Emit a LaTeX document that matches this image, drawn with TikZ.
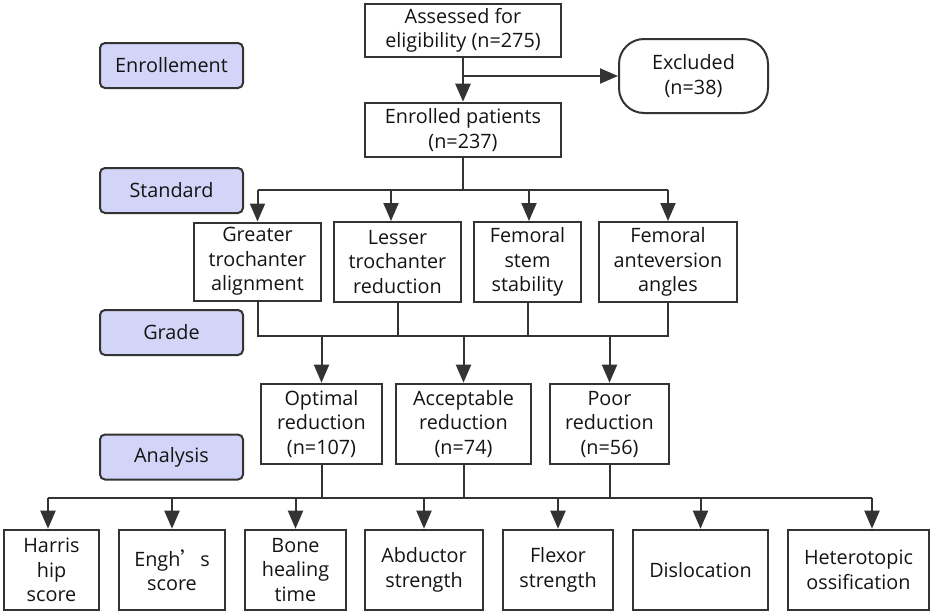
\documentclass[tikz,border=0pt]{standalone}
\usepackage{fontspec}
\setmainfont{Open Sans}
\newfontfamily\cjk{Noto Sans CJK SC}
\usetikzlibrary{arrows.meta}
\definecolor{lab}{RGB}{210,213,247}
\definecolor{ln}{RGB}{51,51,51}
\definecolor{tx}{RGB}{20,20,20}
\begin{document}
\begin{tikzpicture}[x=1pt,y=-1pt,
  box/.style={draw=ln, line width=2pt, fill=white, inner sep=0pt, align=center, text=tx,
    font=\fontsize{19.8}{24.5}\selectfont},
  thick box/.style={box, line width=2.6pt},
  stage/.style={box, fill=lab, rounded corners=5pt, minimum width=143pt, minimum height=45pt},
  conn/.style={draw=ln, line width=2pt},
  arr/.style={conn, -{Triangle[length=18pt,width=15pt]}}]
\useasboundingbox (0,0) rectangle (935,614);
% stage labels
\node[stage] (s1) at (171.5,65.5) {Enrollement};
\node[stage] (s2) at (171.5,190.5) {Standard};
\node[stage] (s3) at (171.5,332.5) {Grade};
\node[stage] (s4) at (171.5,457) {Analysis};
% top
\node[thick box, minimum width=196pt, minimum height=53pt] (ass) at (463,30.5) {Assessed for\\eligibility (n=275)};
\node[thick box, minimum width=196pt, minimum height=54pt] (enr) at (463,130) {Enrolled patients\\(n=237)};
\node[box, minimum width=149pt, minimum height=74pt, rounded corners=25pt] (exc) at (693.5,76) {Excluded\\(n=38)};
% standard
\node[box, minimum width=127pt, minimum height=78pt] (gta) at (257.5,261.5) {Greater\\trochanter\\alignment};
\node[box, minimum width=127pt, minimum height=80pt] (ltr) at (397.5,262) {Lesser\\trochanter\\reduction};
\node[box, minimum width=107pt, minimum height=80pt] (fss) at (527.5,262) {Femoral\\stem\\stability};
\node[box, minimum width=138pt, minimum height=80pt] (fan) at (668,262) {Femoral\\anteversion\\angles};
% grade
\node[thick box, minimum width=121pt, minimum height=80pt] (opt) at (321.5,424) {Optimal\\reduction\\(n=107)};
\node[thick box, minimum width=135pt, minimum height=80pt] (acc) at (463.5,424) {Acceptable\\reduction\\(n=74)};
\node[thick box, minimum width=119pt, minimum height=80pt] (poor) at (609.5,424) {Poor\\reduction\\(n=56)};
% analysis
\node[thick box, minimum width=95pt, minimum height=80pt] (har) at (51.5,570) {Harris\\hip\\score};
\node[thick box, minimum width=106pt, minimum height=80pt] (eng) at (172,570) {Engh{\cjk ’}s\\score};
\node[thick box, minimum width=101pt, minimum height=80pt] (bon) at (295.5,570) {Bone\\healing\\time};
\node[thick box, minimum width=118pt, minimum height=80pt] (abd) at (424,570) {Abductor\\strength};
\node[thick box, minimum width=110pt, minimum height=80pt] (fle) at (558,570) {Flexor\\strength};
\node[thick box, minimum width=135pt, minimum height=80pt] (dis) at (700.5,570) {Dislocation};
\node[thick box, minimum width=141pt, minimum height=80pt] (het) at (858.5,570) {Heterotopic\\ossification};
% connectors: enrollment
\draw[arr, line width=2.6pt] (ass.south) -- (enr.north);
\coordinate (b1) at (463,76);
\draw[arr] (b1) -- (exc.west);
% to standard
\coordinate (b2) at (463,190);
\draw[conn, line width=2.6pt] (enr.south) -- (b2);
\draw[conn] (gta.north |- b2) -- (fan.north |- b2);
\draw[arr] (gta.north |- b2) -- (gta.north);
\draw[arr] ([xshift=-6.5pt]ltr.north |- b2) -- ([xshift=-6.5pt]ltr.north);
\draw[arr] ([xshift=1.5pt]fss.north |- b2) -- ([xshift=1.5pt]fss.north);
\draw[arr] (fan.north |- b2) -- (fan.north);
% to grade
\coordinate (b3) at (0,336);
\draw[conn] (gta.south) -- (gta.south |- b3) -- (fan.south |- b3) -- (fan.south);
\draw[conn] (ltr.south) -- (ltr.south |- b3);
\draw[conn] (fss.south) -- (fss.south |- b3);
\draw[arr] (opt.north |- b3) -- (opt.north);
\draw[arr] (acc.north |- b3) -- (acc.north);
\draw[arr] (poor.north |- b3) -- (poor.north);
% to analysis
\coordinate (b4) at (0,498);
\draw[conn] (opt.south) -- (opt.south |- b4);
\draw[conn] (acc.south) -- (acc.south |- b4);
\draw[conn] (poor.south) -- (poor.south |- b4);
\draw[conn] ([xshift=-3.5pt]har.north |- b4) -- ([xshift=13.5pt]het.north |- b4);
\draw[arr] ([xshift=-3.5pt]har.north |- b4) -- ([xshift=-3.5pt]har.north);
\draw[arr] (eng.north |- b4) -- (eng.north);
\draw[arr] (bon.north |- b4) -- (bon.north);
\draw[arr] (abd.north |- b4) -- (abd.north);
\draw[arr] (fle.north |- b4) -- (fle.north);
\draw[arr] (dis.north |- b4) -- (dis.north);
\draw[arr] ([xshift=13.5pt]het.north |- b4) -- ([xshift=13.5pt]het.north);
\end{tikzpicture}
\end{document}
